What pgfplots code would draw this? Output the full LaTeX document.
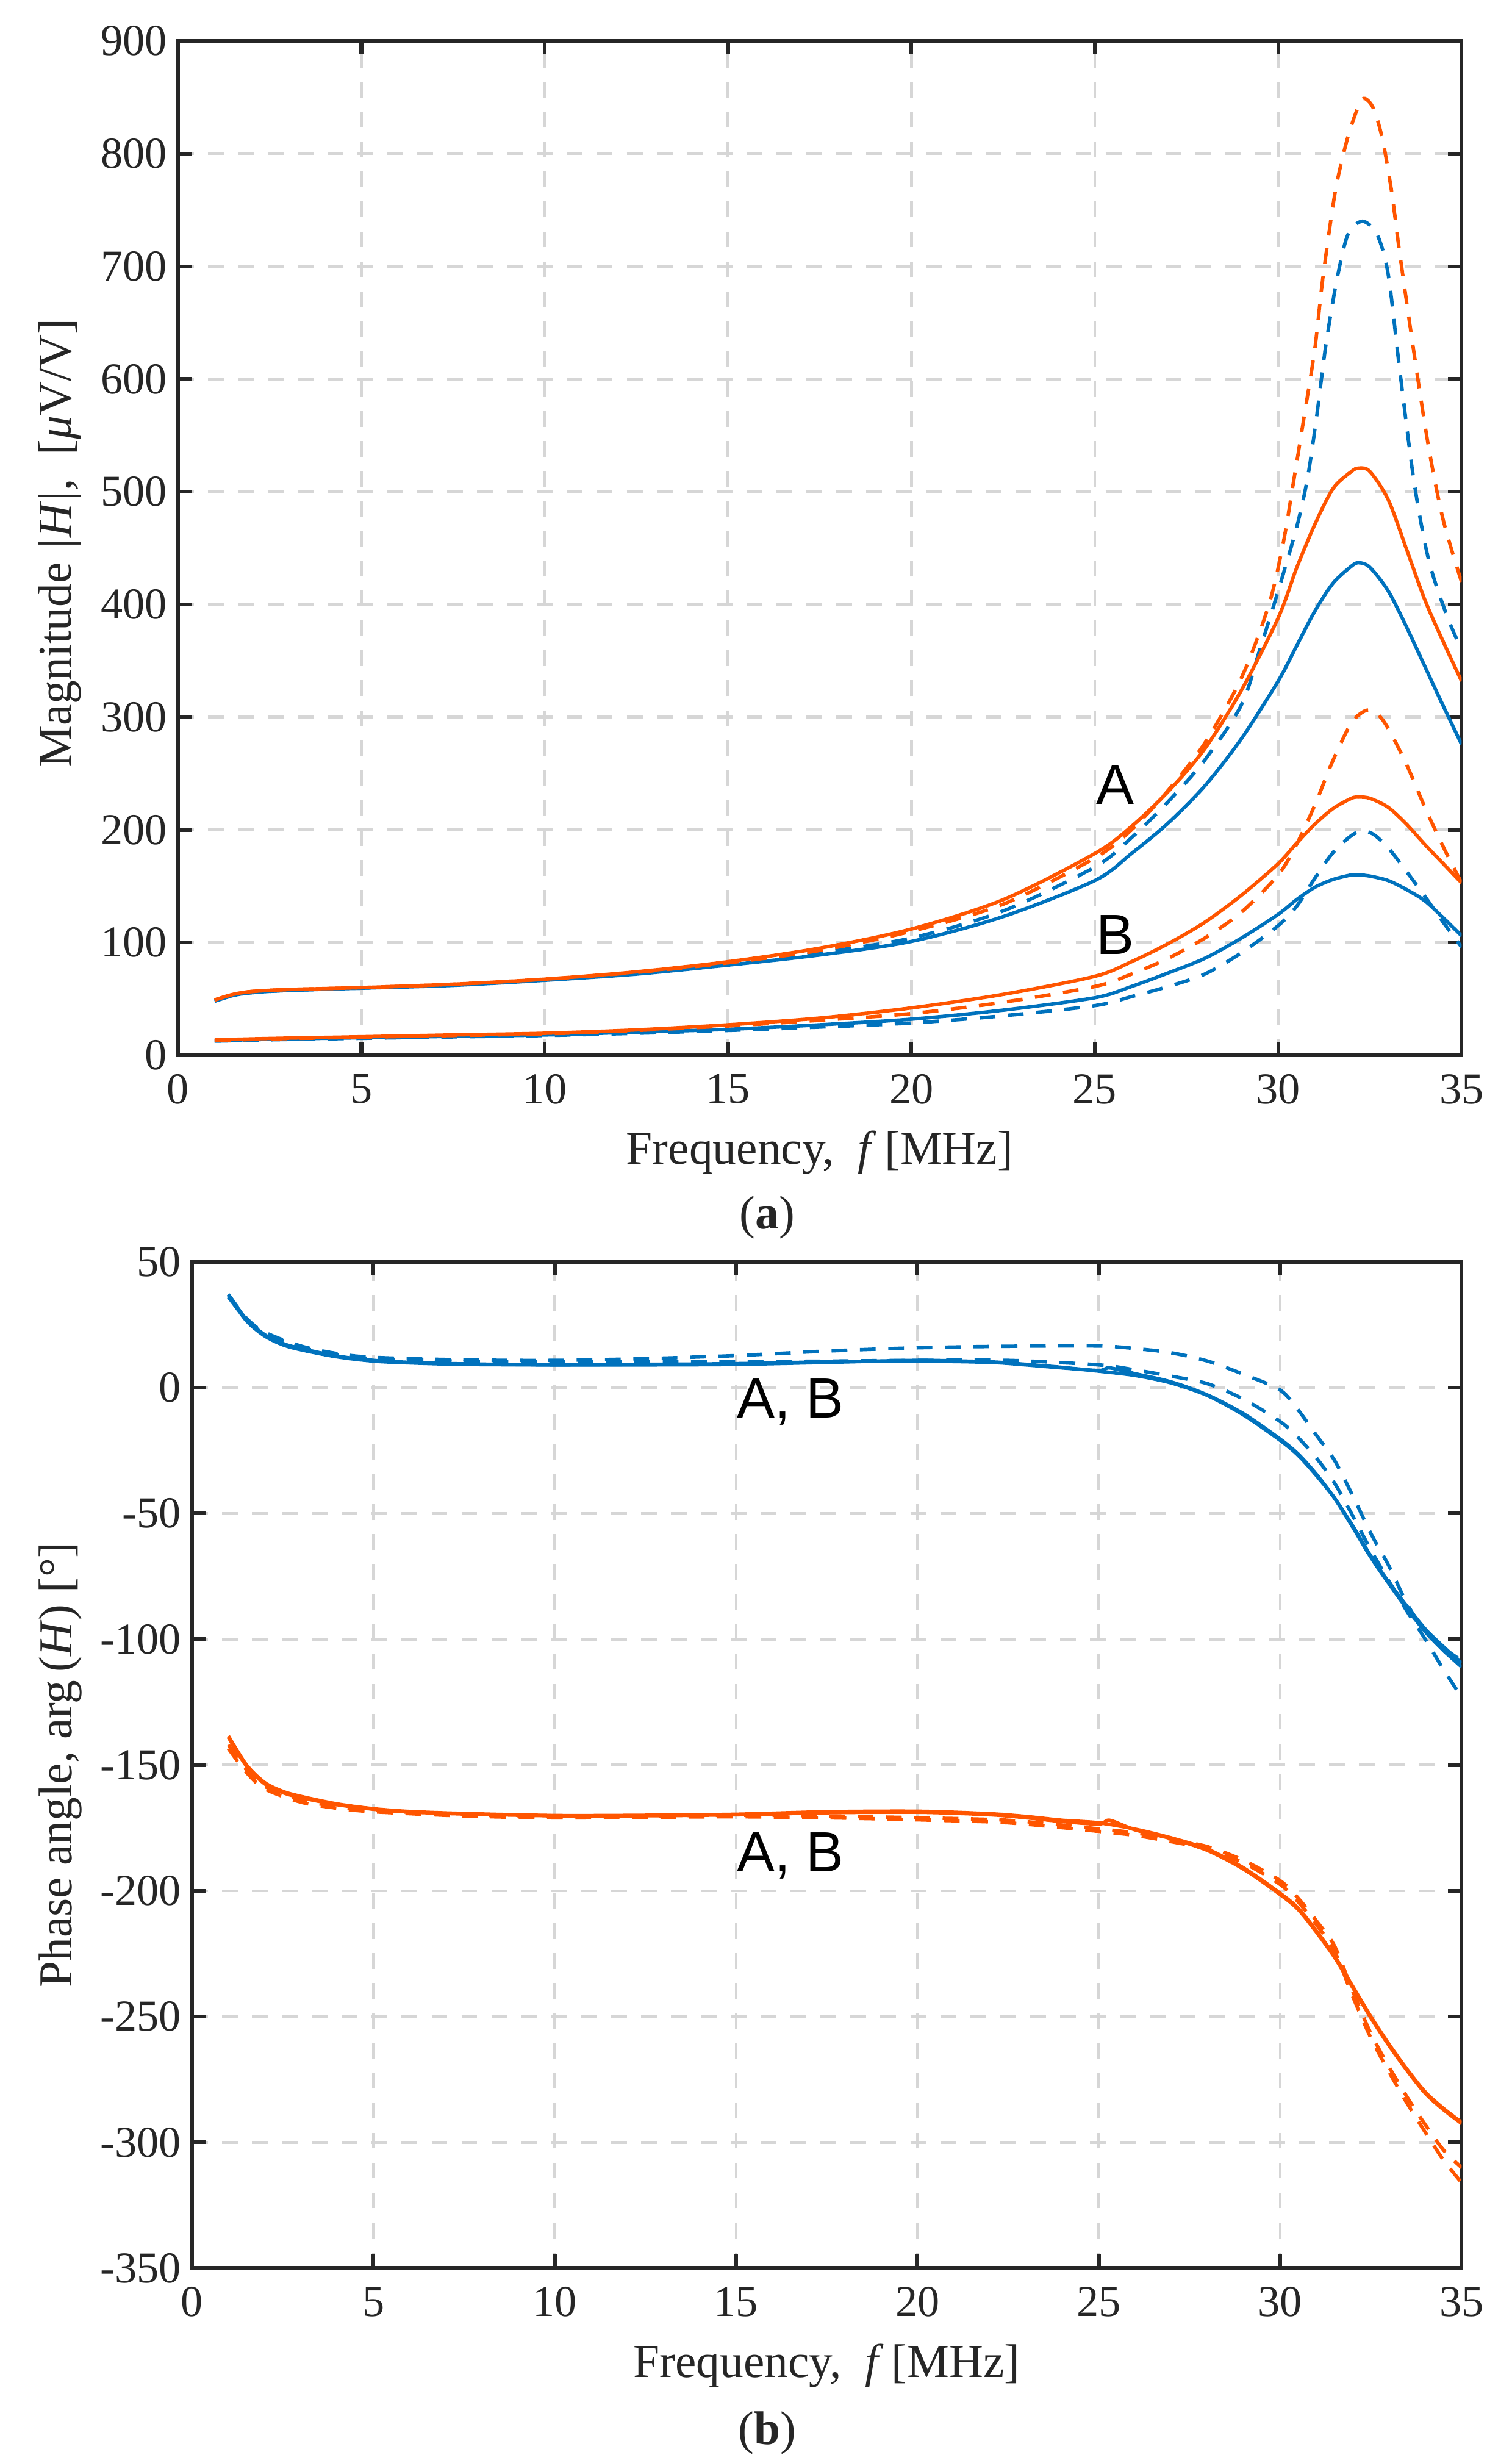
\documentclass[border=0pt]{standalone}
\usepackage{fontspec}
\setmainfont{Liberation Serif}
\newfontfamily\arialfont{Liberation Sans}
\usepackage{pgfplots}
\pgfplotsset{compat=1.18}
\definecolor{mblue}{RGB}{0,114,189}
\definecolor{morange}{RGB}{255,85,0}
\definecolor{gridgray}{RGB}{214,214,214}
\definecolor{axisblack}{RGB}{38,38,38}

\pgfplotsset{
  myaxis/.style={
    scale only axis,
    clip mode=individual,
    xmin=0, xmax=35, xtick={0,5,...,35},
    axis line style={axisblack, line width=1.2pt},
    every tick/.style={axisblack, line width=1.2pt},
    major tick length=4.3pt,
    tick align=inside,
    grid=major,
    major grid style={gridgray, line width=0.9pt, dash pattern=on 5pt off 4.5pt},
    ticklabel style={font=\fontsize{14}{16}\selectfont, text=axisblack},
    xticklabel style={yshift=-2.5pt},
    /pgf/number format/assume math mode=true,
    label style={font=\fontsize{15}{18}\selectfont, text=axisblack},
    every axis plot/.append style={line width=1.1pt, smooth},
  },
  sol/.style={solid},
  das/.style={dash pattern=on 5pt off 4pt},
}

\begin{document}
\begin{tikzpicture}
\path[use as bounding box] (0,0) rectangle (480pt,781.9pt);

% (a) magnitude
\begin{axis}[myaxis,
  at={(56.5pt,446.9pt)}, anchor=south west,
  width=407.5pt, height=322pt,
  ymin=0, ymax=900, ytick={0,100,...,900},
  xlabel={Frequency,\ \ \textit{f}\,[MHz]},
  ylabel={Magnitude \textit{|H|},\ \ [\textit{μ}V/V]},
  xlabel style={at={(axis description cs:0.5,-0.096)}, anchor=center},
  ylabel style={at={(axis description cs:-0.092,0.505)}, anchor=center},
]
% blue, A
\addplot[mblue, sol] coordinates {(1,48)(1.5,53)(2,55.5)(3,57.5)(5,59.5)(7.5,62)(10,66.5)(12.5,72)(15,80)(17.5,89)(20,101)(22.5,123)(25,155)(26,179)(27,206)(28,239)(29,281)(30,332)(30.5,363)(31,394)(31.5,419)(32,434)(32.2,437)(32.5,433)(33,412)(33.5,380)(34,345)(34.5,310)(35,276)};
\addplot[mblue, das] coordinates {(1,48)(1.5,53)(2,55.5)(3,57.5)(5,59.5)(7.5,62.5)(10,67)(12.5,72.5)(15,81)(17.5,91)(20,104)(22.5,128)(25,167)(26,193)(27,225)(28,262)(29,311)(29.5,360)(30,412)(30.5,468)(30.8,512)(31.05,567)(31.3,630)(31.6,688)(31.9,728)(32.3,740)(32.7,728)(33,693)(33.3,612)(33.7,510)(34.1,440)(34.6,390)(35,360)};
% blue, B
\addplot[mblue, sol] coordinates {(1,13)(2,13.8)(3,14.5)(5,15.5)(7.5,16.8)(10,18)(12.5,20.5)(15,23)(17.5,27)(20,32)(22.5,40)(25,51)(26,61)(27,73)(28,86)(29,104)(30,125)(30.5,138)(31,149)(31.5,156)(32,160)(32.2,160)(32.5,159)(33,155)(33.5,147)(34,137)(34.5,122)(35,106)};
\addplot[mblue, das] coordinates {(1,12.5)(2,13.3)(3,14)(5,15)(7.5,16.3)(10,17.5)(12.5,19.5)(15,22)(17.5,25)(20,28.6)(22.5,35)(25,44)(26,52)(27,61)(28,72)(29,91)(30,115)(30.5,132)(31,157)(31.5,180)(32,195)(32.3,199)(32.6,196)(33,184)(33.5,163)(34,141)(34.5,118)(35,96)};
% orange, A
\addplot[morange, sol] coordinates {(1,49)(1.5,54)(2,56.5)(3,58.3)(5,60)(7.5,63)(10,67.5)(12.5,74)(15,83)(17.5,95)(20,112)(22.5,138)(25,179)(26,203)(27,234)(28,272)(29,324)(30,388)(30.5,432)(31,471)(31.5,503)(32,518)(32.2,521)(32.5,518)(33,493)(33.5,449)(34,404)(34.5,367)(35,332)};
\addplot[morange, das] coordinates {(1,49)(1.5,54)(2,56.5)(3,58.3)(5,60)(7.5,63)(10,67.5)(12.5,73.5)(15,82)(17.5,93)(20,110)(22.5,134)(25,175)(26,200)(27,235)(28,277)(29,335)(29.74,399)(30.13,453)(30.43,511)(30.7,565)(31,627)(31.22,690)(31.55,765)(31.86,810)(32.14,838)(32.34,849)(32.6,840)(32.85,812)(33.1,765)(33.3,715)(33.7,624)(34.1,540)(34.5,475)(35,420)};
% orange, B
\addplot[morange, sol] coordinates {(1,13.6)(2,14.5)(3,15.2)(5,16.4)(7.5,18)(10,19.5)(12.5,22.5)(15,27)(17.5,33)(20,42)(22.5,54)(25,70)(26,83)(27,99)(28,118)(29,142)(30,170)(30.5,188)(31,205)(31.5,219)(32,228)(32.2,229)(32.5,228)(33,220)(33.5,205)(34,187)(34.5,170)(35,153)};
\addplot[morange, das] coordinates {(1,13)(2,14)(3,14.8)(5,16)(7.5,17.5)(10,19)(12.5,22)(15,26)(17.5,31)(20,37)(22.5,47)(25,61)(26,72)(27,86)(28,104)(29,127)(30,160)(30.5,187)(31,222)(31.5,262)(32,295)(32.4,306)(32.7,303)(33,290)(33.5,258)(34,220)(34.5,185)(35,153)};

\node[font=\arialfont\fontsize{18}{20}\selectfont] at (axis cs:25.55,240) {A};
\node[font=\arialfont\fontsize{18}{20}\selectfont] at (axis cs:25.55,107) {B};
\node[font=\fontsize{15}{18}\selectfont, text=axisblack] at (axis description cs:0.459,-0.16) {(\textbf{a})};
\end{axis}

% (b) phase
\begin{axis}[myaxis,
  at={(61pt,61.85pt)}, anchor=south west,
  width=403pt, height=319.5pt,
  ymin=-350, ymax=50, ytick={-350,-300,...,50},
  xlabel={Frequency,\ \ \textit{f}\,[MHz]},
  ylabel={Phase angle, arg\,(\textit{H}) [°]},
  xlabel style={at={(axis description cs:0.5,-0.097)}, anchor=center},
  ylabel style={at={(axis description cs:-0.104,0.50)}, anchor=center},
]
% blue
\addplot[mblue, sol] coordinates {(1,37)(1.5,27)(2,21)(2.5,17.5)(3,15.5)(4,12.5)(5,10.8)(6,10)(7.5,9.4)(10,9)(12.5,9)(15,9.2)(17.5,10)(20,10.8)(22,10.2)(23,9.2)(24,8)(25,6.5)(26,4.8)(27,1.8)(28,-3.2)(29,-11)(30,-21)(30.5,-27)(31,-35)(31.5,-44)(32,-55)(32.5,-67)(33,-77.5)(33.5,-87)(34,-96)(34.5,-103)(35,-109.5)};
\addplot[mblue, sol] coordinates {(1,36.5)(1.5,26.5)(2,20.5)(2.5,17)(3,15)(4,12.2)(5,10.5)(6,9.8)(7.5,9.2)(10,9)(12.5,9.2)(15,9.5)(17.5,10.2)(20,10.5)(22,10)(23,9)(24,7.8)(25,6.8)(25.3,7.8)(26,5.5)(27,2.2)(28,-3)(29,-10.5)(30,-20.5)(30.5,-26.5)(31,-34.5)(31.5,-44)(32,-55.5)(32.5,-67.5)(33,-78)(33.5,-88)(34,-97)(34.5,-104.5)(35,-111)};
\addplot[mblue, das] coordinates {(1,37)(1.5,27.5)(2,22)(3,16.5)(4,13.5)(5,12)(7.5,11)(10,10.8)(12.5,11.5)(15,12.7)(17.5,14.5)(20,15.8)(22.5,16.4)(25,16.5)(26,15.5)(27,13.8)(28,10.5)(29,5.2)(30,-1)(30.5,-9)(31,-19)(31.5,-29)(32,-43)(32.5,-58)(33,-71)(33.5,-86)(34,-97)(34.5,-103.5)(35,-108.5)};
\addplot[mblue, das] coordinates {(1,36)(1.5,27)(2,21.5)(3,16)(4,13)(5,11.5)(7.5,10.5)(10,10.2)(12.5,10.2)(15,10.2)(17.5,10.5)(20,10.8)(22.5,10.8)(25,9)(26,7)(27,4.5)(28,1.5)(29,-4.7)(30,-13.5)(30.5,-20)(31,-28)(31.5,-38)(32,-51)(32.5,-64.6)(33,-77)(33.5,-89)(34,-100)(34.5,-112)(35,-123)};
% orange
\addplot[morange, sol] coordinates {(1,-138.5)(1.5,-150)(2,-157)(2.5,-160.5)(3,-162.5)(4,-165.5)(5,-167.4)(6,-168.5)(7.5,-169.3)(10,-170.1)(12.5,-170)(15,-169.6)(17.5,-168.6)(20,-168.4)(22,-169.4)(23,-170.5)(24,-172)(25,-173)(26,-175.5)(27,-179)(28,-183.5)(29,-191)(30,-201)(30.5,-207)(31,-216)(31.5,-226)(32,-238)(32.5,-250)(33,-261)(33.5,-271)(34,-280)(34.5,-286.5)(35,-292)};
\addplot[morange, sol] coordinates {(1,-139)(1.5,-150.5)(2,-157.5)(2.5,-161)(3,-163)(4,-165.8)(5,-167.6)(6,-168.7)(7.5,-169.5)(10,-170.2)(12.5,-170.2)(15,-169.8)(17.5,-169)(20,-168.8)(22,-169.8)(23,-171)(24,-172.5)(25,-173.5)(25.3,-172)(26,-175.8)(27,-179.3)(28,-184)(29,-191.5)(30,-201.5)(30.5,-207.5)(31,-216.5)(31.5,-226.5)(32,-238.5)(32.5,-250.5)(33,-261.5)(33.5,-271.5)(34,-280.5)(34.5,-287)(35,-292.5)};
\addplot[morange, das] coordinates {(1,-142)(1.5,-152)(2,-158.5)(3,-164)(4,-166.5)(5,-168)(7.5,-169.8)(10,-170.5)(12.5,-170.3)(15,-170)(17.5,-170.3)(20,-171)(22.5,-172)(25,-175.4)(26,-177)(27,-179.5)(28,-182.5)(29,-188)(30,-196)(30.5,-203)(31,-212)(31.5,-222)(32,-240)(32.5,-256.7)(33,-270)(33.5,-282)(34,-293)(34.5,-303)(35,-310)};
\addplot[morange, das] coordinates {(1,-143.5)(1.5,-153)(2,-159.5)(3,-164.8)(4,-167.2)(5,-168.6)(7.5,-170.3)(10,-171)(12.5,-170.8)(15,-170.6)(17.5,-171)(20,-171.8)(22.5,-173)(25,-176.4)(26,-178)(27,-180.5)(28,-183.5)(29,-189)(30,-197.5)(30.5,-204.5)(31,-213.5)(31.5,-224)(32,-242)(32.5,-258.5)(33,-272)(33.5,-284.5)(34,-296)(34.5,-307)(35,-316)};

\node[font=\arialfont\fontsize{18}{20}\selectfont] at (axis cs:16.5,-5.7) {A, B};
\node[font=\arialfont\fontsize{18}{20}\selectfont] at (axis cs:16.5,-186) {A, B};
\node[font=\fontsize{15}{18}\selectfont, text=axisblack] at (axis description cs:0.453,-0.164) {(\textbf{b})};
\end{axis}
\end{tikzpicture}
\end{document}
